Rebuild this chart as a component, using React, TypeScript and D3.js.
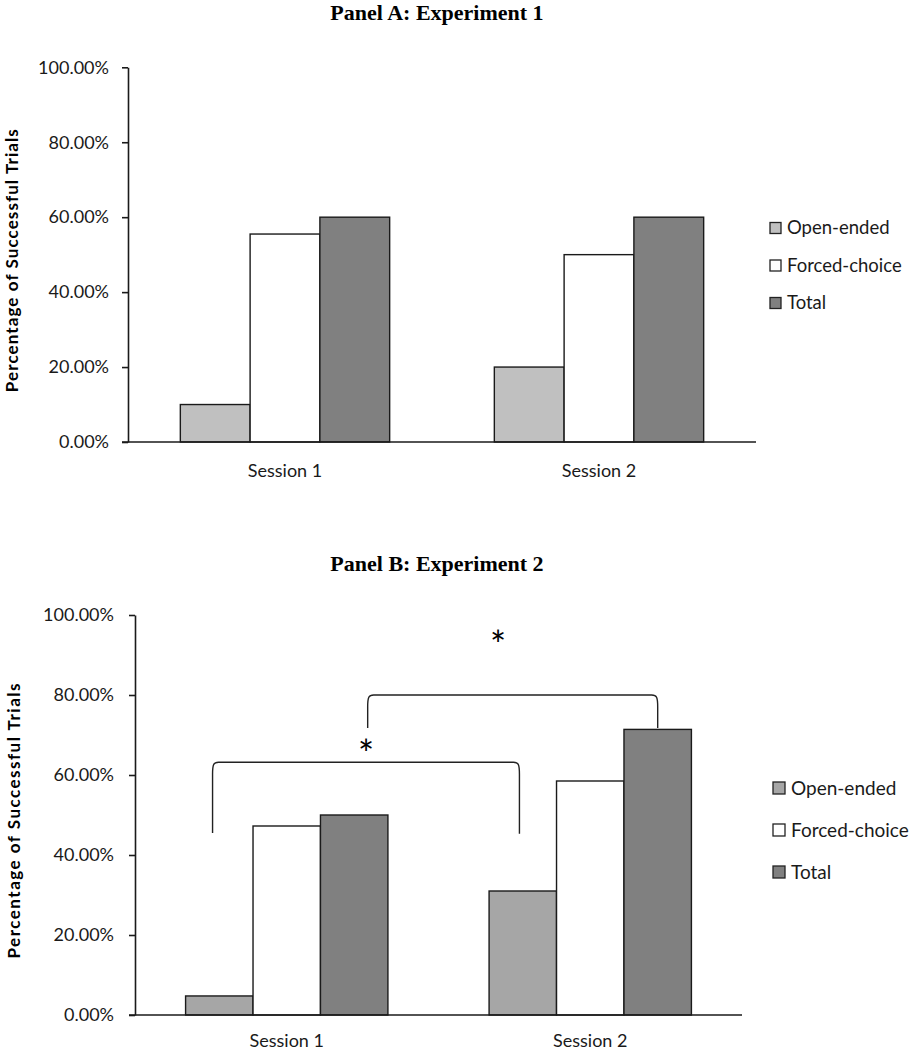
import { useEffect, useRef } from "react";
import * as d3 from "d3";

const sessions = ["Session 1", "Session 2"];
const seriesNames = ["Open-ended", "Forced-choice", "Total"];
const yTicks = [0, 0.2, 0.4, 0.6, 0.8, 1.0];

// Panel A: Experiment 1
const openEndedA = [0.1, 0.2];
const forcedChoiceA = [0.555, 0.5];
const totalA = [0.6, 0.6];

// Panel B: Experiment 2
const openEndedB = [0.0476, 0.31];
const forcedChoiceB = [0.4725, 0.585];
const totalB = [0.5, 0.714];

// significance brackets (panel B): ends are [session, series, shift in bar widths]
const bracketsB = [
  { from: [0, 0, -0.1], to: [1, 0, -0.05], level: 0.632, leftEnd: 0.455, rightEnd: 0.453, star: 0.677, starAt: 0.5 },
  { from: [0, 2, 0.2], to: [1, 2, 0], level: 0.8, leftEnd: 0.7175, rightEnd: 0.7175, star: 0.95, starAt: 0.45 },
];

type Bracket = (typeof bracketsB)[number];

interface PanelCfg {
  title: string;
  titleY: number;
  values: number[][];
  colors: string[];
  x0: number;
  x1: number;
  yBottom: number;
  yTop: number;
  tickPad: number;
  tickFont: number;
  sessionDy: number;
  yTitleX: number;
  yTitleLen: number;
  legendX: number;
  legendY: number;
  legendStep: number;
  legendBox: number;
  legendFont: number;
  brackets: Bracket[];
}

const panels: PanelCfg[] = [
  {
    title: "Panel A: Experiment 1",
    titleY: 20,
    values: [openEndedA, forcedChoiceA, totalA],
    colors: ["#c0c0c0", "#ffffff", "#808080"],
    x0: 128,
    x1: 756,
    yBottom: 442,
    yTop: 67.3,
    tickPad: 13,
    tickFont: 18,
    sessionDy: 35,
    yTitleX: 18,
    yTitleLen: 263,
    legendX: 770,
    legendY: 228,
    legendStep: 37.5,
    legendBox: 11,
    legendFont: 18.5,
    brackets: [],
  },
  {
    title: "Panel B: Experiment 2",
    titleY: 571,
    values: [openEndedB, forcedChoiceB, totalB],
    colors: ["#a6a6a6", "#ffffff", "#808080"],
    x0: 135,
    x1: 742,
    yBottom: 1015,
    yTop: 615,
    tickPad: 15,
    tickFont: 18,
    sessionDy: 32,
    yTitleX: 20,
    yTitleLen: 275,
    legendX: 773,
    legendY: 788,
    legendStep: 42,
    legendBox: 12,
    legendFont: 19,
    brackets: bracketsB,
  },
];

function drawPanel(svg: d3.Selection<SVGSVGElement, unknown, null, undefined>, p: PanelCfg) {
  const x = d3.scaleBand().domain(sessions).range([p.x0, p.x1]).paddingInner(1 / 3).paddingOuter(1 / 6);
  const xs = d3.scaleBand().domain(seriesNames).range([0, x.bandwidth()]);
  const y = d3.scaleLinear().domain([0, 1]).range([p.yBottom, p.yTop]);

  const g = svg.append("g");

  // title
  g.append("text")
    .attr("x", 437)
    .attr("y", p.titleY)
    .attr("text-anchor", "middle")
    .style("font-family", "'Liberation Serif', 'Times New Roman', serif")
    .style("font-weight", "bold")
    .style("font-size", "22px")
    .text(p.title);

  // bars
  seriesNames.forEach((s, si) => {
    g.append("g")
      .selectAll("rect")
      .data(sessions)
      .join("rect")
      .attr("x", (d) => (x(d) || 0) + (xs(s) || 0))
      .attr("y", (d, i) => y(p.values[si][i]))
      .attr("width", xs.bandwidth())
      .attr("height", (d, i) => y(0) - y(p.values[si][i]))
      .attr("fill", p.colors[si])
      .attr("stroke", "#1a1a1a")
      .attr("stroke-width", 1.4);
  });

  // y axis
  const yAxis = g.append("g")
    .attr("transform", `translate(${p.x0},0)`)
    .call(d3.axisLeft(y).tickValues(yTicks).tickFormat(d3.format(".2%")).tickSize(6).tickSizeOuter(0).tickPadding(p.tickPad));
  yAxis.select(".domain").attr("stroke", "#1a1a1a").attr("stroke-width", 1.6);
  yAxis.selectAll(".tick line").attr("stroke", "#1a1a1a").attr("stroke-width", 1.6);
  yAxis.selectAll(".tick text")
    .attr("fill", "#1a1a1a")
    .style("font-family", "Lato, 'Open Sans', sans-serif")
    .style("font-size", `${p.tickFont}px`);

  // x axis baseline
  g.append("line")
    .attr("x1", p.x0 - 6)
    .attr("x2", p.x1)
    .attr("y1", y(0))
    .attr("y2", y(0))
    .attr("stroke", "#1a1a1a")
    .attr("stroke-width", 1.6);

  g.append("g")
    .selectAll("text")
    .data(sessions)
    .join("text")
    .attr("x", (d) => (x(d) || 0) + x.bandwidth() / 2)
    .attr("y", y(0) + p.sessionDy)
    .attr("text-anchor", "middle")
    .attr("fill", "#1a1a1a")
    .style("font-family", "Lato, 'Open Sans', sans-serif")
    .style("font-size", "18px")
    .text((d) => d);

  // y title
  g.append("text")
    .attr("transform", `translate(${p.yTitleX},${(y(0) + y(1)) / 2 + 6}) rotate(-90)`)
    .attr("text-anchor", "middle")
    .attr("textLength", p.yTitleLen)
    .attr("lengthAdjust", "spacing")
    .style("font-family", "Lato, 'Open Sans', sans-serif")
    .style("font-weight", "bold")
    .style("font-size", "17px")
    .text("Percentage of Successful Trials");

  // legend
  const leg = g.append("g")
    .selectAll("g")
    .data(seriesNames)
    .join("g")
    .attr("transform", (d, i) => `translate(${p.legendX},${p.legendY + i * p.legendStep})`);
  leg.append("rect")
    .attr("x", 0)
    .attr("y", -p.legendBox / 2)
    .attr("width", p.legendBox)
    .attr("height", p.legendBox)
    .attr("fill", (d, i) => p.colors[i])
    .attr("stroke", "#222")
    .attr("stroke-width", 1.3);
  leg.append("text")
    .attr("x", p.legendBox + 6)
    .attr("y", 0)
    .attr("dy", "0.35em")
    .attr("fill", "#1a1a1a")
    .style("font-family", "Lato, 'Open Sans', sans-serif")
    .style("font-size", `${p.legendFont}px`)
    .text((d) => d);

  // brackets + stars
  const endX = (e: number[]) => (x(sessions[e[0]]) || 0) + (xs(seriesNames[e[1]]) || 0) + xs.bandwidth() * (0.5 + e[2]);
  p.brackets.forEach((b) => {
    const xa = endX(b.from);
    const xb = endX(b.to);
    const yt = y(b.level);
    const r = 6;
    const path = d3.path();
    path.moveTo(xa, y(b.leftEnd));
    path.lineTo(xa, yt + r * 2);
    path.bezierCurveTo(xa, yt + 2, xa + 1, yt, xa + r, yt);
    path.lineTo(xb - r, yt);
    path.bezierCurveTo(xb - 1, yt, xb, yt + 2, xb, yt + r * 2);
    path.lineTo(xb, y(b.rightEnd));
    g.append("path")
      .attr("d", path.toString())
      .attr("fill", "none")
      .attr("stroke", "#222")
      .attr("stroke-width", 1.4);
    g.append("text")
      .attr("x", xa + (xb - xa) * b.starAt)
      .attr("y", y(b.star) + 24)
      .attr("text-anchor", "middle")
      .style("font-family", "Lato, 'Open Sans', sans-serif")
      .style("font-size", "38px")
      .text("*");
  });
}

export default function App() {
  const ref = useRef<SVGSVGElement>(null);

  useEffect(() => {
    if (!ref.current) return;
    const svg = d3.select(ref.current);
    svg.selectAll("*").remove();
    svg.append("rect").attr("width", 912).attr("height", 1050).attr("fill", "white");
    panels.forEach((p) => drawPanel(svg, p));
  }, []);

  return (
    <svg
      ref={ref}
      width={912}
      height={1050}
      style={{ position: "absolute", left: 0, top: 0, display: "block" }}
    ></svg>
  );
}
